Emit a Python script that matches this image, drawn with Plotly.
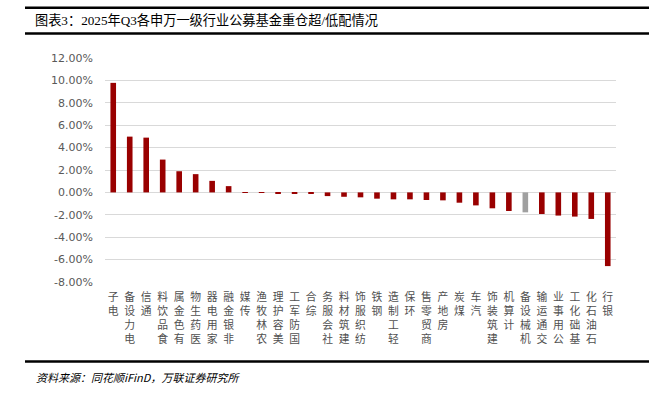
import plotly.graph_objects as go

categories = ["电子", "电力设备", "通信", "食品饮料", "有色金属", "医药生物", "家用电器", "非银金融",
              "传媒", "农林牧渔", "美容护理", "国防军工", "综合", "社会服务", "建筑材料", "纺织服饰",
              "钢铁", "轻工制造", "环保", "商贸零售", "房地产", "煤炭", "汽车", "建筑装饰", "计算机",
              "机械设备", "交通运输", "公用事业", "基础化工", "石油石化", "银行"]
values = [9.78, 4.98, 4.89, 2.93, 1.89, 1.63, 1.03, 0.56,
          0.02, -0.05, -0.06, -0.08, -0.10, -0.33, -0.39, -0.44,
          -0.56, -0.62, -0.62, -0.68, -0.71, -0.92, -1.16, -1.42, -1.66,
          -1.78, -1.93, -2.07, -2.16, -2.37, -6.58]
highlight = "机械设备"
y_ticks = [12, 10, 8, 6, 4, 2, 0, -2, -4, -6, -8]

title_text = "图表3：2025年Q3各申万一级行业公募基金重仓超/低配情况"
source_text = "资料来源：同花顺iFinD，万联证券研究所"

W, H = 649, 394
L, R, T, B = 105, 33, 57.5, 111.7
pw, ph = W - L - R, H - T - B

def px(x):
    return (x - L) / pw

def py(y):
    return (H - B - y) / ph

colors = ["#A0A0A0" if c == highlight else "#990000" for c in categories]
# stacked characters, read bottom-to-top (last character nearest the axis)
labels = ["<br>".join(reversed(list(c))) for c in categories]

fig = go.Figure(go.Bar(x=labels, y=values, marker_color=colors, width=0.34,
                       marker_line_width=0))

fig.update_layout(
    width=W, height=H,
    margin=dict(l=L, r=R, t=T, b=B, autoexpand=False),
    paper_bgcolor="white", plot_bgcolor="white",
    showlegend=False,
    font=dict(family="Noto Sans CJK SC", color="#595959"),
)
fig.update_yaxes(range=[-8, 12], tickvals=y_ticks,
                 ticktext=[f"{v:.2f}%" for v in y_ticks],
                 showgrid=True, gridcolor="#D9D9D9", gridwidth=1,
                 zeroline=False, showline=False, automargin=False,
                 tickfont=dict(family="DejaVu Sans", size=11, color="#595959"),
                 ticks="", ticklabelstandoff=11)
fig.update_xaxes(tickfont=dict(family="Noto Sans CJK SC", size=10.8, color="#505050"),
                 tickangle=0, showgrid=False, showline=False, ticks="",
                 automargin=False, ticklabelstandoff=7)

shapes = []
for y, w in [(7, 2.5), (33, 2.5), (362, 2.5)]:
    shapes.append(dict(type="line", xref="paper", yref="paper",
                       x0=px(25), x1=px(649), y0=py(y), y1=py(y),
                       line=dict(color="black", width=w)))
fig.update_layout(shapes=shapes)

fig.add_annotation(xref="paper", yref="paper", x=px(33), y=py(20),
                   xanchor="left", yanchor="middle", showarrow=False,
                   text=title_text,
                   font=dict(family="Liberation Serif, Noto Sans CJK SC", size=13.2, color="black"))
fig.add_annotation(xref="paper", yref="paper", x=px(34), y=py(378),
                   xanchor="left", yanchor="middle", showarrow=False,
                   text="<i>" + source_text + "</i>",
                   font=dict(family="Noto Sans CJK SC", size=11, color="black"))

fig.write_html("out.html", config={"displayModeBar": False},
               post_script="document.body.style.margin='0px';document.body.style.overflow='hidden';")
